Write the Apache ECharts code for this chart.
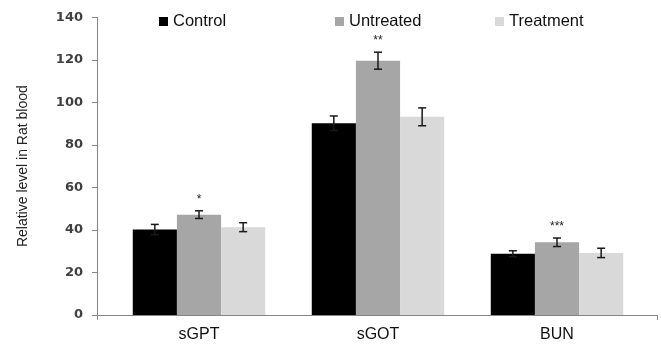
<!DOCTYPE html>
<html>
<head>
<meta charset="utf-8">
<script src="https://cdn.jsdelivr.net/npm/echarts@6/dist/echarts.min.js"></script>
<style>html,body{margin:0;padding:0;background:#fff}#c{width:661px;height:344px}</style>
</head>
<body>
<div id="c"></div>
<script>
var categories = ['sGPT', 'sGOT', 'BUN'];
var seriesNames = ['Control', 'Untreated', 'Treatment'];
var control = [40.2, 90.2, 28.8];
var controlErr = [2.4, 3.4, 1.4];
var untreated = [47.2, 119.6, 34.2];
var untreatedErr = [1.8, 4.0, 2.0];
var treatment = [41.3, 93.2, 29.2];
var treatmentErr = [2.1, 4.2, 2.2];
var significance = ['*', '**', '***'];
var yTicks = [0, 20, 40, 60, 80, 100, 120, 140];

var colors = ['#000000', '#a6a6a6', '#d9d9d9'];
var values = [control, untreated, treatment];
var errors = [controlErr, untreatedErr, treatmentErr];
var GAP = 0.26;

function errRender(k, withStars) {
  return function (params, api) {
    var i = api.value(0), v = api.value(1), e = api.value(2);
    var bandW = api.size([1, 0])[0];
    var barW = bandW * (1 - GAP) / 3;
    var x = api.coord([i, v])[0] + (k - 1) * barW;
    var yt = api.coord([i, v + e])[1];
    var yb = api.coord([i, v - e])[1];
    var cap = 4;
    var style = { stroke: '#1a1a1a', lineWidth: 1.5 };
    var children = [
      { type: 'line', shape: { x1: x, y1: yt, x2: x, y2: yb }, style: style },
      { type: 'line', shape: { x1: x - cap, y1: yt, x2: x + cap, y2: yt }, style: style },
      { type: 'line', shape: { x1: x - cap, y1: yb, x2: x + cap, y2: yb }, style: style }
    ];
    if (withStars) {
      children.push({
        type: 'text',
        style: {
          text: significance[i], x: x, y: yt - 5,
          align: 'center', verticalAlign: 'bottom',
          fontSize: 12, fontFamily: 'Liberation Sans, Arial, sans-serif', fill: '#222'
        }
      });
    }
    return { type: 'group', children: children };
  };
}

var series = [];
seriesNames.forEach(function (name, k) {
  series.push({
    name: name, type: 'bar', xAxisIndex: 1, yAxisIndex: 1,
    data: values[k], barGap: '0%', barCategoryGap: (GAP * 100) + '%',
    itemStyle: { color: colors[k] }, z: 2
  });
});
seriesNames.forEach(function (name, k) {
  series.push({
    type: 'custom', xAxisIndex: 1, yAxisIndex: 1, z: 5, silent: true,
    renderItem: errRender(k, k === 1),
    data: categories.map(function (c, i) { return [i, values[k][i], errors[k][i]]; })
  });
});

var legendLefts = [159, 335, 495];
var legends = seriesNames.map(function (n, k) {
  return {
    data: [n], left: legendLefts[k], top: 13, padding: 0,
    itemWidth: 9, itemHeight: 9, icon: 'rect', itemGap: 4,
    textStyle: { fontSize: 16.5, fontFamily: 'Liberation Sans, Arial, sans-serif', color: '#111' }
  };
});

var chart = echarts.init(document.getElementById('c'));
chart.setOption({
  animation: false,
  backgroundColor: '#fff',
  legend: legends,
  grid: [
    { left: 97, right: 4, top: 17.3, bottom: 29 },
    { left: 109.5, right: 14.5, top: 17.3, bottom: 29 }
  ],
  xAxis: [
    {
      gridIndex: 0, type: 'category', data: [''],
      axisLine: { lineStyle: { color: '#868686', width: 1 } },
      axisTick: { show: true, length: 5, lineStyle: { color: '#868686' } },
      axisLabel: { show: false }, splitLine: { show: false }
    },
    {
      gridIndex: 1, type: 'category', data: categories,
      axisLine: { show: false }, axisTick: { show: false },
      axisLabel: { fontSize: 16, margin: 12, color: '#111', fontFamily: 'Liberation Sans, Arial, sans-serif' }
    }
  ],
  yAxis: [
    {
      gridIndex: 0, type: 'value', min: yTicks[0], max: yTicks[yTicks.length - 1], interval: 20,
      axisLine: { show: true, lineStyle: { color: '#868686', width: 1 } },
      axisTick: { show: true, length: 5, lineStyle: { color: '#868686' } },
      splitLine: { show: false },
      axisLabel: { margin: 14, fontSize: 13, fontWeight: 'bold', color: '#404040', fontFamily: 'DejaVu Sans, sans-serif' },
      name: 'Relative level in Rat blood', nameLocation: 'middle', nameGap: 67,
      nameTextStyle: { fontSize: 14, color: '#222', fontFamily: 'Liberation Sans, Arial, sans-serif' }
    },
    {
      gridIndex: 1, type: 'value', min: 0, max: 140, show: false, splitLine: { show: false }
    }
  ],
  series: series
});
</script>
</body>
</html>
